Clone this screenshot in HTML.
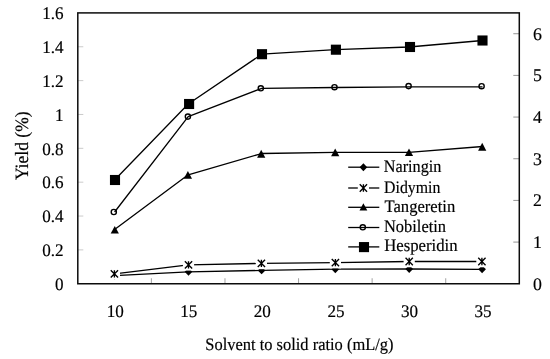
<!DOCTYPE html>
<html><head><meta charset="utf-8"><title>Yield vs solvent to solid ratio</title>
<style>
html,body{margin:0;padding:0;background:#fff;}
svg{display:block}
text{font-family:"Liberation Serif","Times New Roman",serif;font-size:17.5px;fill:#000;stroke:#000;stroke-width:0.18px;text-rendering:geometricPrecision;}
.t{font-size:17.7px}
.r{font-size:17.8px}
</style></head><body>
<svg width="550" height="359" viewBox="0 0 550 359">
<rect x="0" y="0" width="550" height="359" fill="#fff"/>
<line x1="77.8" y1="249.89" x2="83.3" y2="249.89" stroke="#b4b4b4" stroke-width="0.7"/>
<line x1="77.8" y1="216.04" x2="83.3" y2="216.04" stroke="#b4b4b4" stroke-width="0.7"/>
<line x1="77.8" y1="182.18" x2="83.3" y2="182.18" stroke="#b4b4b4" stroke-width="0.7"/>
<line x1="77.8" y1="148.32" x2="83.3" y2="148.32" stroke="#b4b4b4" stroke-width="0.7"/>
<line x1="77.8" y1="114.47" x2="83.3" y2="114.47" stroke="#b4b4b4" stroke-width="0.7"/>
<line x1="77.8" y1="80.61" x2="83.3" y2="80.61" stroke="#b4b4b4" stroke-width="0.7"/>
<line x1="77.8" y1="46.76" x2="83.3" y2="46.76" stroke="#b4b4b4" stroke-width="0.7"/>
<line x1="519.3" y1="242.08" x2="513.3" y2="242.08" stroke="#707070" stroke-width="0.75"/>
<line x1="519.3" y1="200.41" x2="513.3" y2="200.41" stroke="#707070" stroke-width="0.75"/>
<line x1="519.3" y1="158.74" x2="513.3" y2="158.74" stroke="#707070" stroke-width="0.75"/>
<line x1="519.3" y1="117.07" x2="513.3" y2="117.07" stroke="#707070" stroke-width="0.75"/>
<line x1="519.3" y1="75.40" x2="513.3" y2="75.40" stroke="#707070" stroke-width="0.75"/>
<line x1="519.3" y1="33.73" x2="513.3" y2="33.73" stroke="#707070" stroke-width="0.75"/>
<line x1="151.38" y1="283.75" x2="151.38" y2="278.25" stroke="#7a7a7a" stroke-width="0.7"/>
<line x1="224.97" y1="283.75" x2="224.97" y2="278.25" stroke="#7a7a7a" stroke-width="0.7"/>
<line x1="298.55" y1="283.75" x2="298.55" y2="278.25" stroke="#7a7a7a" stroke-width="0.7"/>
<line x1="372.13" y1="283.75" x2="372.13" y2="278.25" stroke="#7a7a7a" stroke-width="0.7"/>
<line x1="445.72" y1="283.75" x2="445.72" y2="278.25" stroke="#7a7a7a" stroke-width="0.7"/>
<polyline points="114.6,275.7 188.2,271.8 261.8,270.4 335.3,269.2 408.9,269.0 482.5,269.3" fill="none" stroke="#000" stroke-width="1.3" stroke-linejoin="round"/>
<path d="M110.80,275.70L114.60,271.75L118.40,275.70L114.60,279.65Z" fill="#000"/>
<path d="M184.70,271.80L188.50,267.85L192.30,271.80L188.50,275.75Z" fill="#000"/>
<path d="M257.80,270.40L261.60,266.45L265.40,270.40L261.60,274.35Z" fill="#000"/>
<path d="M331.50,269.20L335.30,265.25L339.10,269.20L335.30,273.15Z" fill="#000"/>
<path d="M405.40,269.00L409.20,265.05L413.00,269.00L409.20,272.95Z" fill="#000"/>
<path d="M478.30,269.30L482.10,265.35L485.90,269.30L482.10,273.25Z" fill="#000"/>
<polyline points="114.6,273.9 188.2,264.8 261.8,263.4 335.3,262.6 408.9,261.5 482.5,261.5" fill="none" stroke="#000" stroke-width="1.3" stroke-linejoin="round"/>
<rect x="108.80" y="268.10" width="11.2" height="11.6" fill="#fff"/><path d="M110.75,270.25L118.05,277.55M118.05,270.25L110.75,277.55M114.40,270.25L114.40,277.55" stroke="#000" stroke-width="1.35" fill="none"/>
<rect x="182.90" y="259.00" width="11.2" height="11.6" fill="#fff"/><path d="M184.85,261.15L192.15,268.45M192.15,261.15L184.85,268.45M188.50,261.15L188.50,268.45" stroke="#000" stroke-width="1.35" fill="none"/>
<rect x="255.80" y="257.60" width="11.2" height="11.6" fill="#fff"/><path d="M257.75,259.75L265.05,267.05M265.05,259.75L257.75,267.05M261.40,259.75L261.40,267.05" stroke="#000" stroke-width="1.35" fill="none"/>
<rect x="329.80" y="256.80" width="11.2" height="11.6" fill="#fff"/><path d="M331.75,258.95L339.05,266.25M339.05,258.95L331.75,266.25M335.40,258.95L335.40,266.25" stroke="#000" stroke-width="1.35" fill="none"/>
<rect x="403.60" y="255.70" width="11.2" height="11.6" fill="#fff"/><path d="M405.55,257.85L412.85,265.15M412.85,257.85L405.55,265.15M409.20,257.85L409.20,265.15" stroke="#000" stroke-width="1.35" fill="none"/>
<rect x="476.30" y="255.70" width="11.2" height="11.6" fill="#fff"/><path d="M478.25,257.85L485.55,265.15M485.55,257.85L478.25,265.15M481.90,257.85L481.90,265.15" stroke="#000" stroke-width="1.35" fill="none"/>
<polyline points="114.6,229.6 188.2,174.8 261.8,153.5 335.3,152.3 408.9,152.3 482.5,146.5" fill="none" stroke="#000" stroke-width="1.3" stroke-linejoin="round"/>
<path d="M114.80,225.90L118.90,233.40L110.70,233.40Z" fill="#000"/>
<path d="M187.90,170.90L192.00,178.70L183.80,178.70Z" fill="#000"/>
<path d="M261.20,149.70L265.30,157.70L257.10,157.70Z" fill="#000"/>
<path d="M335.20,148.40L339.30,156.30L331.10,156.30Z" fill="#000"/>
<path d="M409.00,148.40L413.10,155.90L404.90,155.90Z" fill="#000"/>
<path d="M482.20,142.70L486.30,150.80L478.10,150.80Z" fill="#000"/>
<polyline points="114.6,212.0 188.2,116.6 261.8,88.3 335.3,87.5 408.9,86.9 482.5,86.9" fill="none" stroke="#000" stroke-width="1.3" stroke-linejoin="round"/>
<circle cx="113.80" cy="212.00" r="2.6" fill="none" stroke="#000" stroke-width="1.4"/>
<circle cx="187.90" cy="116.60" r="2.6" fill="none" stroke="#000" stroke-width="1.4"/>
<circle cx="260.80" cy="88.30" r="2.6" fill="none" stroke="#000" stroke-width="1.4"/>
<circle cx="334.50" cy="87.20" r="2.6" fill="none" stroke="#000" stroke-width="1.4"/>
<circle cx="408.60" cy="86.10" r="2.6" fill="none" stroke="#000" stroke-width="1.4"/>
<circle cx="481.60" cy="86.20" r="2.6" fill="none" stroke="#000" stroke-width="1.4"/>
<polyline points="114.6,180.0 188.2,104.0 261.8,54.2 335.3,49.7 408.9,47.0 482.5,40.5" fill="none" stroke="#000" stroke-width="1.3" stroke-linejoin="round"/>
<rect x="109.95" y="174.95" width="10.1" height="10.1" fill="#000"/>
<rect x="184.05" y="98.95" width="10.1" height="10.1" fill="#000"/>
<rect x="256.95" y="49.15" width="10.1" height="10.1" fill="#000"/>
<rect x="330.85" y="44.65" width="10.1" height="10.1" fill="#000"/>
<rect x="404.95" y="41.95" width="10.1" height="10.1" fill="#000"/>
<rect x="477.45" y="35.45" width="10.1" height="10.1" fill="#000"/>
<rect x="77.8" y="12.9" width="441.50" height="270.85" fill="none" stroke="#0c0c0c" stroke-width="1.5"/>
<line x1="348.2" y1="167.2" x2="379.3" y2="167.2" stroke="#000" stroke-width="1.3"/>
<path d="M359.60,167.20L363.40,163.25L367.20,167.20L363.40,171.15Z" fill="#000"/>
<text x="383.8" y="171.9" textLength="57.6" lengthAdjust="spacingAndGlyphs">Naringin</text>
<line x1="348.2" y1="188.0" x2="379.3" y2="188.0" stroke="#000" stroke-width="1.3"/>
<rect x="357.80" y="182.20" width="11.2" height="11.6" fill="#fff"/><path d="M359.75,184.35L367.05,191.65M367.05,184.35L359.75,191.65M363.40,184.35L363.40,191.65" stroke="#000" stroke-width="1.35" fill="none"/>
<text x="384.1" y="192.8" textLength="56.3" lengthAdjust="spacingAndGlyphs">Didymin</text>
<line x1="348.2" y1="207.3" x2="379.3" y2="207.3" stroke="#000" stroke-width="1.3"/>
<path d="M363.40,203.20L367.30,210.60L359.50,210.60Z" fill="#000"/>
<text x="384.5" y="212.0" textLength="70.7" lengthAdjust="spacingAndGlyphs">Tangeretin</text>
<line x1="348.2" y1="227.5" x2="379.3" y2="227.5" stroke="#000" stroke-width="1.3"/>
<circle cx="362.80" cy="227.30" r="2.6" fill="none" stroke="#000" stroke-width="1.4"/>
<text x="384.0" y="232.3" textLength="62.0" lengthAdjust="spacingAndGlyphs">Nobiletin</text>
<line x1="348.2" y1="246.9" x2="379.3" y2="246.9" stroke="#000" stroke-width="1.3"/>
<rect x="358.95" y="242.05" width="10.1" height="10.1" fill="#000"/>
<text x="384.2" y="251.3" textLength="73.4" lengthAdjust="spacingAndGlyphs">Hesperidin</text>
<text class="t" x="63.6" y="289.95" text-anchor="end" textLength="8.54" lengthAdjust="spacingAndGlyphs">0</text>
<text class="t" x="63.6" y="256.09" text-anchor="end" textLength="21.35" lengthAdjust="spacingAndGlyphs">0.2</text>
<text class="t" x="63.6" y="222.24" text-anchor="end" textLength="21.35" lengthAdjust="spacingAndGlyphs">0.4</text>
<text class="t" x="63.6" y="188.38" text-anchor="end" textLength="21.35" lengthAdjust="spacingAndGlyphs">0.6</text>
<text class="t" x="63.6" y="154.52" text-anchor="end" textLength="21.35" lengthAdjust="spacingAndGlyphs">0.8</text>
<text class="t" x="63.6" y="120.67" text-anchor="end" textLength="8.54" lengthAdjust="spacingAndGlyphs">1</text>
<text class="t" x="63.6" y="86.81" text-anchor="end" textLength="21.35" lengthAdjust="spacingAndGlyphs">1.2</text>
<text class="t" x="63.6" y="52.96" text-anchor="end" textLength="21.35" lengthAdjust="spacingAndGlyphs">1.4</text>
<text class="t" x="63.6" y="19.10" text-anchor="end" textLength="21.35" lengthAdjust="spacingAndGlyphs">1.6</text>
<text class="r" x="532.9" y="289.70">0</text>
<text class="r" x="532.9" y="248.03">1</text>
<text class="r" x="532.9" y="206.36">2</text>
<text class="r" x="532.9" y="164.69">3</text>
<text class="r" x="532.9" y="123.02">4</text>
<text class="r" x="532.9" y="81.35">5</text>
<text class="r" x="532.9" y="39.68">6</text>
<text class="t" x="115.19" y="317.2" text-anchor="middle" textLength="17.08" lengthAdjust="spacingAndGlyphs">10</text>
<text class="t" x="188.78" y="317.2" text-anchor="middle" textLength="17.08" lengthAdjust="spacingAndGlyphs">15</text>
<text class="t" x="262.36" y="317.2" text-anchor="middle" textLength="17.08" lengthAdjust="spacingAndGlyphs">20</text>
<text class="t" x="335.94" y="317.2" text-anchor="middle" textLength="17.08" lengthAdjust="spacingAndGlyphs">25</text>
<text class="t" x="409.53" y="317.2" text-anchor="middle" textLength="17.08" lengthAdjust="spacingAndGlyphs">30</text>
<text class="t" x="483.11" y="317.2" text-anchor="middle" textLength="17.08" lengthAdjust="spacingAndGlyphs">35</text>
<text x="205.3" y="350.2" textLength="188.2" lengthAdjust="spacingAndGlyphs">Solvent to solid ratio (mL/g)</text>
<text transform="translate(28.2,180.1) rotate(-90)" style="font-size:18.8px" textLength="68.8" lengthAdjust="spacingAndGlyphs">Yield (%)</text>
</svg>
</body></html>
